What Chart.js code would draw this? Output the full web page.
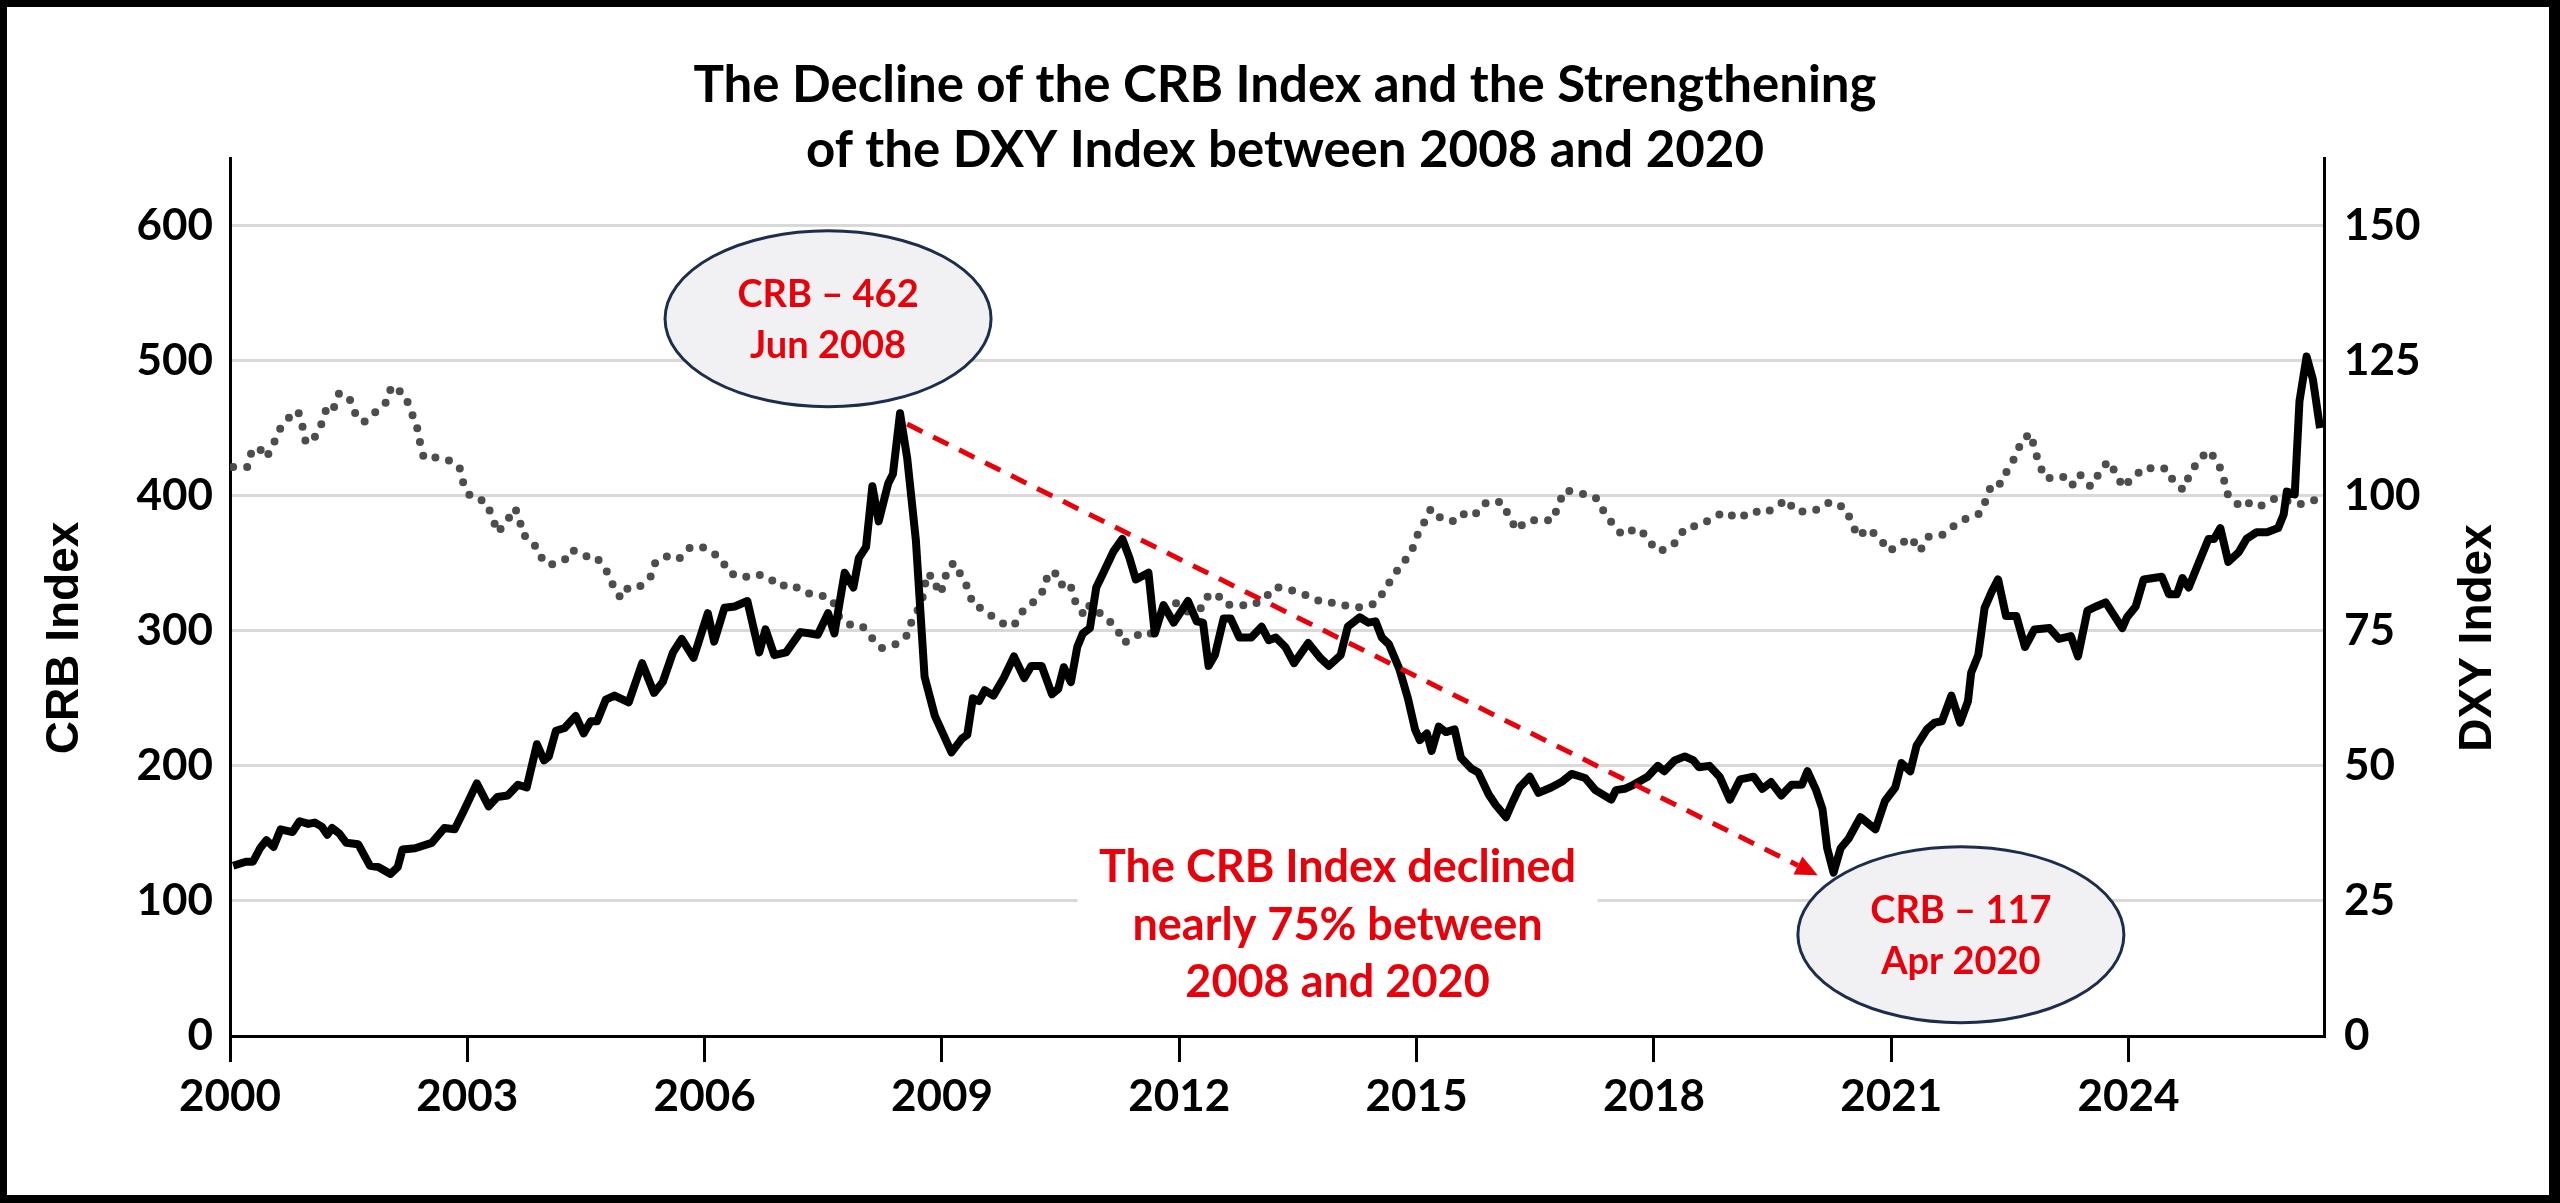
<!DOCTYPE html>
<html>
<head>
<meta charset="utf-8">
<script src="https://cdn.jsdelivr.net/npm/chart.js@4.4.1/dist/chart.umd.min.js"></script>
<style>
html, body { margin: 0; padding: 0; background: #fff; }
canvas { display: block; }
</style>
</head>
<body>
<canvas id="crbChart" width="2560" height="1203"></canvas>
<script>
// CRB index (left axis)
const crbDates = [
  2000.04, 2000.20, 2000.29, 2000.38, 2000.46, 2000.55, 2000.64, 2000.79, 2000.88, 2000.99,
  2001.07, 2001.16, 2001.23, 2001.29, 2001.38, 2001.47, 2001.62, 2001.77, 2001.88, 2002.03,
  2002.12, 2002.18, 2002.34, 2002.55, 2002.71, 2002.84, 2002.95, 2003.12, 2003.27, 2003.38,
  2003.51, 2003.64, 2003.75, 2003.88, 2003.97, 2004.03, 2004.12, 2004.23, 2004.37, 2004.47,
  2004.56, 2004.64, 2004.75, 2004.86, 2005.04, 2005.21, 2005.36, 2005.47, 2005.60, 2005.71,
  2005.86, 2006.04, 2006.12, 2006.25, 2006.38, 2006.54, 2006.69, 2006.77, 2006.88, 2007.03,
  2007.21, 2007.34, 2007.43, 2007.56, 2007.64, 2007.77, 2007.88, 2007.95, 2008.04, 2008.12,
  2008.20, 2008.32, 2008.38, 2008.47, 2008.56, 2008.67, 2008.78, 2008.91, 2009.12, 2009.25,
  2009.32, 2009.39, 2009.47, 2009.54, 2009.65, 2009.78, 2009.91, 2010.04, 2010.13, 2010.26,
  2010.39, 2010.47, 2010.54, 2010.63, 2010.71, 2010.78, 2010.87, 2010.95, 2011.04, 2011.17,
  2011.28, 2011.37, 2011.45, 2011.61, 2011.69, 2011.80, 2011.93, 2012.11, 2012.22, 2012.30,
  2012.37, 2012.45, 2012.56, 2012.65, 2012.76, 2012.91, 2013.04, 2013.13, 2013.22, 2013.34,
  2013.45, 2013.63, 2013.78, 2013.89, 2014.04, 2014.13, 2014.28, 2014.39, 2014.48, 2014.56,
  2014.65, 2014.78, 2014.89, 2014.98, 2015.04, 2015.13, 2015.19, 2015.28, 2015.37, 2015.48,
  2015.56, 2015.69, 2015.78, 2015.91, 2016.00, 2016.13, 2016.22, 2016.30, 2016.43, 2016.54,
  2016.70, 2016.83, 2016.96, 2017.13, 2017.26, 2017.46, 2017.52, 2017.63, 2017.74, 2017.92,
  2018.05, 2018.13, 2018.26, 2018.39, 2018.50, 2018.57, 2018.70, 2018.83, 2018.96, 2019.09,
  2019.26, 2019.37, 2019.48, 2019.61, 2019.74, 2019.87, 2019.94, 2020.05, 2020.13, 2020.19,
  2020.27, 2020.36, 2020.46, 2020.61, 2020.80, 2020.92, 2021.05, 2021.13, 2021.24, 2021.32,
  2021.45, 2021.55, 2021.64, 2021.76, 2021.87, 2021.97, 2022.01, 2022.10, 2022.18, 2022.27,
  2022.35, 2022.45, 2022.58, 2022.69, 2022.81, 2023.00, 2023.12, 2023.27, 2023.36, 2023.48,
  2023.59, 2023.71, 2023.92, 2023.98, 2024.09, 2024.19, 2024.42, 2024.51, 2024.61, 2024.68,
  2024.76, 2024.87, 2025.01, 2025.08, 2025.16, 2025.26, 2025.39, 2025.49, 2025.62, 2025.75,
  2025.89, 2025.96, 2026.00, 2026.10, 2026.16, 2026.25, 2026.33, 2026.42
];
const crbValues = [
  126, 129, 129, 139, 145, 140, 153, 151, 159, 157,
  158, 155, 149, 154, 150, 143, 142, 126, 125, 120,
  125, 138, 139, 143, 154, 153, 166, 187, 170, 177,
  178, 186, 184, 216, 204, 207, 226, 228, 237, 224,
  233, 233, 249, 252, 247, 276, 254, 262, 284, 294,
  280, 313, 292, 317, 318, 322, 284, 301, 282, 284,
  299, 298, 297, 313, 298, 343, 332, 354, 362, 407,
  381, 409, 416, 461, 428, 367, 266, 237, 210, 220,
  223, 250, 248, 256, 252, 265, 281, 265, 274, 274,
  253, 257, 273, 262, 288, 298, 302, 332, 343, 359,
  368, 354, 338, 343, 298, 319, 306, 322, 307, 306,
  274, 282, 309, 309, 295, 295, 303, 293, 295, 288,
  276, 291, 280, 274, 282, 303, 310, 306, 307, 295,
  290, 272, 250, 227, 219, 224, 211, 229, 225, 227,
  206, 198, 195, 179, 171, 162, 174, 184, 192, 180,
  184, 188, 194, 191, 182, 175, 182, 183, 186, 192,
  200, 196, 204, 207, 204, 199, 200, 192, 175, 190,
  192, 183, 188, 178, 186, 186, 196, 182, 168, 139,
  121, 139, 146, 162, 153, 174, 184, 202, 196, 215,
  227, 232, 233, 252, 232, 248, 269, 282, 317, 329,
  338, 311, 311, 288, 301, 302, 294, 296, 281, 315,
  318, 321, 302, 310, 318, 338, 340, 327, 327, 339,
  332, 348, 368, 368, 376, 351, 358, 368, 373, 373,
  376, 386, 403, 401, 470, 503, 486, 450
];

// DXY index (right axis)
const dxyDates = [
  2000.04, 2000.22, 2000.27, 2000.36, 2000.46, 2000.55, 2000.64, 2000.75, 2000.86, 2000.92,
  2000.96, 2001.08, 2001.17, 2001.23, 2001.31, 2001.38, 2001.51, 2001.59, 2001.69, 2001.84,
  2001.99, 2002.04, 2002.21, 2002.28, 2002.36, 2002.40, 2002.45, 2002.55, 2002.75, 2002.90,
  2002.95, 2003.04, 2003.23, 2003.32, 2003.38, 2003.49, 2003.60, 2003.66, 2003.69, 2003.84,
  2003.92, 2004.03, 2004.23, 2004.32, 2004.47, 2004.62, 2004.75, 2004.84, 2004.94, 2005.04,
  2005.19, 2005.32, 2005.38, 2005.56, 2005.68, 2005.82, 2005.97, 2006.10, 2006.21, 2006.30,
  2006.47, 2006.66, 2006.82, 2006.93, 2007.10, 2007.27, 2007.45, 2007.62, 2007.69, 2007.82,
  2007.99, 2008.12, 2008.24, 2008.43, 2008.56, 2008.62, 2008.73, 2008.78, 2008.80, 2008.91,
  2008.95, 2009.02, 2009.06, 2009.15, 2009.25, 2009.34, 2009.39, 2009.49, 2009.65, 2009.82,
  2009.91, 2010.02, 2010.17, 2010.30, 2010.34, 2010.47, 2010.54, 2010.63, 2010.69, 2010.80,
  2010.87, 2011.06, 2011.21, 2011.30, 2011.45, 2011.63, 2011.74, 2011.84, 2011.95, 2012.11,
  2012.30, 2012.37, 2012.48, 2012.59, 2012.76, 2012.91, 2013.06, 2013.22, 2013.36, 2013.52,
  2013.65, 2013.82, 2014.00, 2014.13, 2014.30, 2014.47, 2014.58, 2014.69, 2014.80, 2014.93,
  2015.00, 2015.09, 2015.18, 2015.26, 2015.35, 2015.45, 2015.56, 2015.72, 2015.85, 2015.96,
  2016.09, 2016.17, 2016.27, 2016.37, 2016.54, 2016.72, 2016.79, 2016.87, 2017.00, 2017.11,
  2017.26, 2017.37, 2017.48, 2017.60, 2017.78, 2017.91, 2018.02, 2018.15, 2018.28, 2018.39,
  2018.57, 2018.74, 2018.89, 2019.07, 2019.24, 2019.40, 2019.53, 2019.68, 2019.78, 2019.92,
  2020.08, 2020.23, 2020.42, 2020.50, 2020.58, 2020.71, 2020.86, 2020.97, 2021.13, 2021.25,
  2021.36, 2021.47, 2021.64, 2021.80, 2021.95, 2022.12, 2022.21, 2022.27, 2022.38, 2022.47,
  2022.58, 2022.65, 2022.76, 2022.81, 2022.87, 2022.96, 2023.06, 2023.17, 2023.28, 2023.38,
  2023.52, 2023.63, 2023.74, 2023.84, 2023.93, 2024.06, 2024.22, 2024.34, 2024.47, 2024.57,
  2024.69, 2024.78, 2024.89, 2025.01, 2025.13, 2025.20, 2025.24, 2025.37, 2025.47, 2025.54,
  2025.68, 2025.85, 2026.00, 2026.10, 2026.23, 2026.40
];
const dxyValues = [
  105.3, 105.3, 108.0, 109.0, 107.0, 109.6, 112.6, 114.5, 115.7, 112.6,
  109.7, 111.0, 113.7, 116.7, 116.2, 119.0, 118.0, 115.0, 113.6, 115.5,
  117.5, 120.3, 118.7, 115.9, 113.0, 110.0, 107.0, 107.2, 106.7, 105.3,
  102.3, 99.8, 98.9, 96.0, 93.2, 95.0, 97.7, 96.0, 93.0, 91.2,
  88.8, 87.1, 88.1, 90.0, 88.8, 88.8, 86.4, 83.5, 81.0, 83.1,
  83.3, 85.1, 87.8, 89.0, 88.4, 90.5, 90.5, 89.4, 88.4, 85.8,
  84.8, 85.5, 84.8, 83.2, 83.6, 82.0, 81.7, 80.6, 77.8, 76.2,
  75.9, 73.6, 71.8, 72.6, 74.2, 76.9, 79.8, 82.5, 85.5, 84.8,
  81.8, 83.1, 86.1, 87.6, 85.0, 82.5, 79.8, 79.2, 77.5, 75.9,
  76.0, 78.6, 80.5, 82.8, 85.8, 85.5, 82.6, 83.1, 80.2, 77.8,
  79.8, 77.5, 75.5, 72.7, 74.2, 74.2, 77.8, 79.5, 80.2, 78.5,
  79.3, 81.7, 81.7, 79.8, 79.8, 79.6, 80.8, 83.1, 82.7, 82.1,
  81.3, 80.2, 80.2, 79.5, 79.3, 80.0, 82.1, 84.8, 87.1, 89.4,
  92.4, 94.9, 97.6, 96.2, 95.7, 95.2, 96.7, 96.2, 98.5, 99.1,
  98.7, 96.0, 93.6, 95.2, 95.6, 95.4, 98.2, 101.0, 100.7, 100.3,
  99.7, 97.0, 94.7, 92.7, 94.0, 92.5, 89.9, 90.0, 91.4, 94.0,
  94.5, 95.8, 97.0, 95.7, 97.2, 96.7, 97.8, 99.3, 97.2, 97.0,
  97.5, 98.9, 97.7, 95.0, 92.4, 93.9, 92.0, 89.7, 91.2, 92.3,
  89.7, 92.4, 92.7, 94.5, 95.8, 96.7, 99.6, 102.3, 102.2, 104.8,
  107.5, 110.3, 111.5, 108.8, 105.7, 103.1, 103.5, 103.5, 101.8, 104.0,
  101.7, 104.2, 106.4, 104.2, 101.5, 103.5, 105.3, 104.8, 105.1, 102.6,
  101.1, 104.2, 106.6, 108.4, 106.2, 103.3, 100.5, 98.5, 97.8, 98.9,
  98.2, 99.5, 99.1, 98.4, 98.5, 99.5
];

const yearTicks = [2000, 2003, 2006, 2009, 2012, 2015, 2018, 2021, 2024];
const crbTicks = [0, 100, 200, 300, 400, 500, 600];
const dxyTicks = [0, 25, 50, 75, 100, 125, 150];

const RED = '#e8000b';
const LABEL_FONT = 'Lato, "Open Sans", sans-serif';

function setTicks(list) {
  return function (scale) {
    scale.ticks = list.map(v => ({ value: v }));
  };
}

function ellipseNote(ctx, cx, cy, lines) {
  ctx.save();
  ctx.beginPath();
  ctx.ellipse(cx, cy, 163, 88, 0, 0, Math.PI * 2);
  ctx.fillStyle = '#f1f1f3';
  ctx.fill();
  ctx.lineWidth = 3;
  ctx.strokeStyle = '#1f2d4d';
  ctx.stroke();
  ctx.fillStyle = RED;
  ctx.font = 'bold 38px ' + LABEL_FONT;
  ctx.textAlign = 'center';
  ctx.textBaseline = 'alphabetic';
  ctx.fillText(lines[0], cx, cy - 12);
  ctx.fillText(lines[1], cx, cy + 39);
  ctx.restore();
}

const notesPlugin = {
  id: 'notes',
  afterDatasetsDraw(chart) {
    const ctx = chart.ctx;
    const x = chart.scales.x;
    const y = chart.scales.y;

    // text box with white backing over the gridline
    const tx = x.getPixelForValue(2014.0);
    ctx.save();
    ctx.fillStyle = '#fff';
    ctx.fillRect(tx - 260, y.getPixelForValue(140), 520, y.getPixelForValue(12) - y.getPixelForValue(140));
    ctx.fillStyle = RED;
    ctx.font = 'bold 45px ' + LABEL_FONT;
    ctx.textAlign = 'center';
    ctx.fillText('The CRB Index declined', tx, 882);
    ctx.fillText('nearly 75% between', tx, 940);
    ctx.fillText('2008 and 2020', tx, 997);
    ctx.restore();

    // dashed arrow peak -> trough
    const x0 = x.getPixelForValue(2008.56), y0 = y.getPixelForValue(453);
    const x1 = x.getPixelForValue(2020.07), y1 = y.getPixelForValue(119);
    const ang = Math.atan2(y1 - y0, x1 - x0);
    const head = 22;
    ctx.save();
    ctx.strokeStyle = RED;
    ctx.fillStyle = RED;
    ctx.lineWidth = 5;
    ctx.setLineDash([17, 12]);
    ctx.beginPath();
    ctx.moveTo(x0, y0);
    ctx.lineTo(x1 - head * Math.cos(ang), y1 - head * Math.sin(ang));
    ctx.stroke();
    ctx.setLineDash([]);
    ctx.beginPath();
    ctx.moveTo(x1, y1);
    ctx.lineTo(x1 - head * Math.cos(ang) + 10 * Math.sin(ang), y1 - head * Math.sin(ang) - 10 * Math.cos(ang));
    ctx.lineTo(x1 - head * Math.cos(ang) - 10 * Math.sin(ang), y1 - head * Math.sin(ang) + 10 * Math.cos(ang));
    ctx.closePath();
    ctx.fill();
    ctx.restore();

    ellipseNote(ctx, x.getPixelForValue(2007.56), y.getPixelForValue(531), ['CRB \u2013 462', 'Jun 2008']);
    ellipseNote(ctx, x.getPixelForValue(2021.88), y.getPixelForValue(75), ['CRB \u2013 117', 'Apr 2020']);
  },
  afterDraw(chart) {
    const ctx = chart.ctx;
    const area = chart.chartArea;
    const midY = 638;
    ctx.save();
    ctx.fillStyle = '#000';
    ctx.font = 'bold 51px ' + LABEL_FONT;
    ctx.textAlign = 'center';
    ctx.fillText('The Decline of the CRB Index and the Strengthening', 1285, 102);
    ctx.fillText('of the DXY Index between 2008 and 2020', 1285, 167);

    ctx.font = 'bold 46px "Liberation Sans", Arial, sans-serif';
    ctx.textBaseline = 'middle';
    ctx.translate(65, midY);
    ctx.rotate(-Math.PI / 2);
    ctx.fillText('CRB Index', 0, 0);
    ctx.restore();

    ctx.save();
    ctx.fillStyle = '#000';
    ctx.font = 'bold 46px "Liberation Sans", Arial, sans-serif';
    ctx.textAlign = 'center';
    ctx.textBaseline = 'middle';
    ctx.translate(area.right + 154, midY);
    ctx.rotate(-Math.PI / 2);
    ctx.fillText('DXY Index', 0, 0);
    ctx.restore();

    // outer frame
    ctx.save();
    ctx.fillStyle = '#000';
    ctx.fillRect(0, 0, chart.width, 7);
    ctx.fillRect(0, chart.height - 8, chart.width, 8);
    ctx.fillRect(0, 0, 7, chart.height);
    ctx.fillRect(chart.width - 11, 0, 11, chart.height);
    ctx.restore();
  }
};

const ctx = document.getElementById('crbChart').getContext('2d');
new Chart(ctx, {
  type: 'line',
  data: {
    datasets: [{
      label: 'CRB Index',
      data: crbDates.map((d, i) => ({ x: d, y: crbValues[i] })),
      yAxisID: 'y',
      borderColor: '#000',
      borderWidth: 8,
      borderJoinStyle: 'round',
      pointRadius: 0,
      tension: 0
    }, {
      label: 'DXY Index',
      data: dxyDates.map((d, i) => ({ x: d, y: dxyValues[i] })),
      yAxisID: 'y2',
      borderColor: '#4d4d4d',
      borderWidth: 8,
      borderDash: [0, 14],
      borderCapStyle: 'round',
      pointRadius: 0,
      tension: 0
    }]
  },
  options: {
    responsive: false,
    animation: false,
    devicePixelRatio: 1,
    events: [],
    layout: { padding: { top: 158, left: 0, right: 0, bottom: 0 } },
    plugins: {
      legend: { display: false },
      tooltip: { enabled: false },
      title: { display: false }
    },
    scales: {
      x: {
        type: 'linear',
        min: 2000,
        max: 2026.47,
        afterBuildTicks: setTicks(yearTicks),
        afterFit: s => { s.height = 167; },
        grid: { display: true, drawOnChartArea: false, drawTicks: true, tickLength: 26, color: '#000', lineWidth: 3 },
        border: { display: true, color: '#000', width: 3 },
        ticks: {
          padding: 8,
          color: '#000',
          font: { family: LABEL_FONT, weight: 'bold', size: 44 },
          callback: v => String(v),
          maxRotation: 0
        }
      },
      y: {
        position: 'left',
        min: 0,
        max: 650,
        afterBuildTicks: setTicks(crbTicks),
        afterFit: s => { s.width = 230; },
        grid: { color: '#d9d9d9', lineWidth: 3, drawTicks: false },
        border: { display: true, color: '#000', width: 3 },
        ticks: {
          padding: 17,
          color: '#000',
          font: { family: LABEL_FONT, weight: 'bold', size: 44 }
        }
      },
      y2: {
        position: 'right',
        min: 0,
        max: 162.5,
        afterBuildTicks: setTicks(dxyTicks),
        afterFit: s => { s.width = 236; },
        grid: { display: false, drawTicks: false },
        border: { display: true, color: '#000', width: 3 },
        ticks: {
          padding: 20,
          color: '#000',
          font: { family: LABEL_FONT, weight: 'bold', size: 44 }
        }
      }
    }
  },
  plugins: [notesPlugin]
});
</script>
</body>
</html>
